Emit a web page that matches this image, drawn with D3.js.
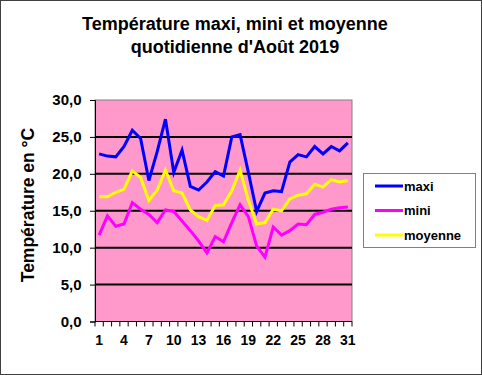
<!DOCTYPE html>
<html>
<head>
<meta charset="utf-8">
<script src="https://cdn.jsdelivr.net/npm/d3@7"></script>
<style>
  body { margin: 0; background: #fff; }
  text { font-family: "Liberation Sans", Arial, sans-serif; font-weight: bold; }
</style>
</head>
<body>
<svg id="chart" width="482" height="375"></svg>
<script>
// daily values, August 2019
var days = d3.range(1, 32);
var maxi = [22.7, 22.4, 22.3, 23.7, 25.9, 24.8, 19.1, 23.0, 27.4, 20.2,
            23.2, 18.3, 17.8, 18.9, 20.3, 19.7, 25.0, 25.3, 20.2, 14.9,
            17.4, 17.7, 17.6, 21.6, 22.6, 22.3, 23.7, 22.7, 23.7, 23.1, 24.2];
var mini = [11.7, 14.3, 12.9, 13.2, 16.1, 15.2, 14.5, 13.4, 15.1, 14.9,
            13.6, 12.3, 10.9, 9.3, 11.5, 10.8, 13.4, 15.8, 14.2, 10.2,
            8.7, 12.8, 11.7, 12.3, 13.2, 13.1, 14.5, 14.8, 15.2, 15.4, 15.5];
var moyenne = [16.9, 16.9, 17.5, 17.9, 20.4, 19.5, 16.4, 17.8, 20.5, 17.7,
               17.4, 15.1, 14.2, 13.7, 15.7, 15.8, 17.7, 20.5, 16.4, 13.2,
               13.4, 15.2, 15.0, 16.6, 17.1, 17.3, 18.6, 18.2, 19.2, 18.9, 19.1];
var yTicks = [0, 5, 10, 15, 20, 25, 30];
var xLabels = [1, 4, 7, 10, 13, 16, 19, 22, 25, 28, 31];

var series = [
    { name: "maxi", values: maxi, color: "#0000ff" },
    { name: "mini", values: mini, color: "#ff00ff" },
    { name: "moyenne", values: moyenne, color: "#ffff00" }
];

var svg = d3.select("#chart");
var plot = { left: 95, right: 352, top: 100, bottom: 321.5 };

// outer frame
svg.append("rect")
    .attr("x", 0.5).attr("y", 0.5)
    .attr("width", 481).attr("height", 374)
    .style("fill", "#fff")
    .style("stroke", "#404040");

// title
svg.append("text")
    .attr("x", 235).attr("y", 30)
    .attr("text-anchor", "middle")
    .style("font-size", "18px")
    .text("Température maxi, mini et moyenne");
svg.append("text")
    .attr("x", 235).attr("y", 53)
    .attr("text-anchor", "middle")
    .style("font-size", "18px")
    .text("quotidienne d'Août 2019");

var x = d3.scaleBand().domain(days).range([plot.left, plot.right]);
var y = d3.scaleLinear().domain([0, 30]).range([plot.bottom, plot.top]);

svg.append("rect")
    .attr("x", plot.left).attr("y", plot.top)
    .attr("width", plot.right - plot.left)
    .attr("height", plot.bottom - plot.top)
    .style("fill", "#ff99cc")
    .style("stroke", "#808080");

// gridlines
svg.selectAll(".grid")
    .data(yTicks.filter(d => d > 0 && d < 30))
    .enter().append("line")
    .attr("class", "grid")
    .attr("x1", plot.left).attr("x2", plot.right)
    .attr("y1", d => y(d)).attr("y2", d => y(d))
    .style("stroke", "#000")
    .style("stroke-width", 2);

// y axis
var yAxis = svg.append("g")
    .attr("transform", "translate(" + plot.left + ",0)")
    .call(d3.axisLeft(y).tickValues(yTicks).tickSize(5).tickPadding(8.5)
        .tickFormat(d => d3.format(".1f")(d).replace(".", ",")));
yAxis.selectAll("text").style("font-size", "15px").style("fill", "#000");
yAxis.select(".domain").style("stroke", "#000");

// x axis, ticks between categories
var xAxis = svg.append("g")
    .attr("transform", "translate(0," + plot.bottom + ")");
xAxis.append("line")
    .attr("x1", plot.left).attr("x2", plot.right)
    .style("stroke", "#000");
xAxis.selectAll(".tick")
    .data(d3.range(0, 32))
    .enter().append("line")
    .attr("x1", i => plot.left + i * x.step())
    .attr("x2", i => plot.left + i * x.step())
    .attr("y1", 0).attr("y2", 5)
    .style("stroke", "#000");
xAxis.selectAll(".lbl")
    .data(xLabels)
    .enter().append("text")
    .attr("x", d => x(d) + x.bandwidth() / 2)
    .attr("y", 23.5)
    .attr("text-anchor", "middle")
    .style("font-size", "14px")
    .text(d => d);

// y axis title
svg.append("text")
    .attr("transform", "translate(34,205) rotate(-90)")
    .attr("text-anchor", "middle")
    .style("font-size", "17.5px")
    .text("Température en °C");

// lines
var line = d3.line()
    .x((d, i) => x(days[i]) + x.bandwidth() / 2)
    .y(d => y(d));

svg.selectAll(".serie")
    .data(series)
    .enter().append("path")
    .attr("class", "serie")
    .attr("d", d => line(d.values))
    .style("fill", "none")
    .style("stroke", d => d.color)
    .style("stroke-width", 3);

// legend
var legend = svg.append("g").attr("transform", "translate(363,173)");
legend.append("rect")
    .attr("x", 0.5).attr("y", 0.5)
    .attr("width", 112).attr("height", 74)
    .style("fill", "#fff")
    .style("stroke", "#808080");
series.forEach((s, i) => {
    legend.append("line")
        .attr("x1", 12).attr("x2", 40)
        .attr("y1", 13 + i * 24.5).attr("y2", 13 + i * 24.5)
        .style("stroke", s.color)
        .style("stroke-width", 3);
    legend.append("text")
        .attr("x", 41).attr("y", 17.5 + i * 24.5)
        .style("font-size", "13px")
        .text(s.name);
});
</script>
</body>
</html>
